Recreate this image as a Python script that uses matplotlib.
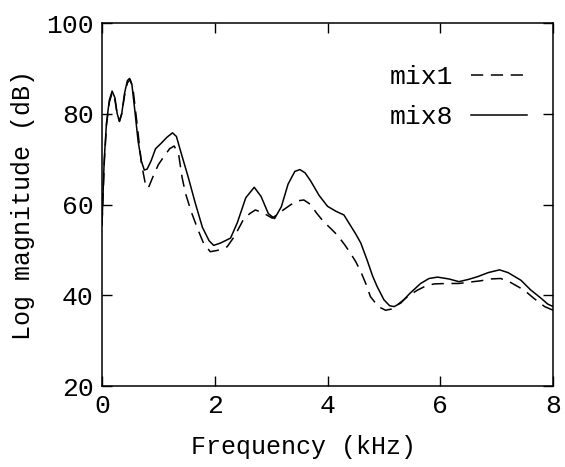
import matplotlib
matplotlib.use("Agg")
import matplotlib.pyplot as plt

# values (kHz, dB)
freq_mix8 = [0.00, 0.04, 0.08, 0.13, 0.18, 0.23, 0.27, 0.31, 0.35, 0.40, 0.45, 0.49,
             0.53, 0.58, 0.64, 0.70, 0.75, 0.80, 0.87, 0.95, 1.05, 1.15, 1.25, 1.32,
             1.40, 1.53, 1.65, 1.78, 1.90, 1.98, 2.10, 2.28, 2.40, 2.55, 2.70, 2.82,
             2.95, 3.06, 3.18, 3.30, 3.42, 3.51, 3.60, 3.70, 3.85, 4.00, 4.15, 4.29,
             4.40, 4.50, 4.59, 4.70, 4.80, 4.88, 5.00, 5.10, 5.18, 5.30, 5.45, 5.65,
             5.80, 5.95, 6.15, 6.33, 6.50, 6.66, 6.85, 7.05, 7.20, 7.43, 7.60, 7.79,
             7.90, 8.00]
mag_mix8 = [55.5, 70.0, 78.0, 83.0, 85.0, 83.5, 80.0, 78.4, 80.0, 84.5, 87.3, 87.8,
            86.5, 81.0, 74.0, 69.5, 67.6, 67.8, 69.6, 72.3, 73.5, 74.8, 75.8, 75.0,
            71.5, 66.0, 60.5, 55.0, 52.0, 51.0, 51.5, 52.6, 56.0, 61.5, 63.8, 61.8,
            58.0, 56.9, 59.5, 64.5, 67.3, 67.7, 67.0, 65.2, 62.0, 59.6, 58.5, 57.7,
            55.5, 53.5, 51.5, 47.8, 44.2, 41.9, 39.0, 37.7, 37.5, 38.3, 40.3, 42.6,
            43.7, 44.0, 43.6, 43.0, 43.5, 44.1, 45.0, 45.6, 45.0, 43.3, 41.2, 39.3,
            38.1, 37.5]

freq_mix1 = [0.00, 0.04, 0.08, 0.13, 0.18, 0.23, 0.27, 0.31, 0.35, 0.40, 0.45, 0.50,
             0.55, 0.62, 0.70, 0.77, 0.82, 0.90, 1.00, 1.10, 1.20, 1.28, 1.36, 1.42,
             1.48, 1.58, 1.70, 1.80, 1.92, 2.05, 2.22, 2.35, 2.50, 2.62, 2.72, 2.85,
             3.02, 3.18, 3.34, 3.46, 3.58, 3.70, 3.80, 3.93, 4.05, 4.17, 4.30, 4.41,
             4.50, 4.59, 4.68, 4.76, 4.90, 5.03, 5.15, 5.30, 5.45, 5.59, 5.75, 5.89,
             6.10, 6.33, 6.52, 6.72, 6.90, 7.07, 7.25, 7.49, 7.65, 7.85, 8.00]
mag_mix1 = [55.5, 69.0, 77.5, 82.5, 84.6, 83.0, 79.8, 78.3, 80.0, 84.0, 86.8, 87.5,
            85.5, 78.0, 69.0, 64.5, 63.6, 66.0, 68.8, 70.6, 72.3, 72.9, 71.0, 66.0,
            62.5, 58.5, 54.5, 51.5, 49.6, 49.9, 50.7, 53.0, 56.5, 58.0, 58.8, 58.2,
            57.0, 58.5, 59.9, 60.8, 61.0, 60.0, 58.2, 56.2, 54.8, 53.3, 51.2, 49.2,
            47.4, 45.2, 42.5, 39.7, 37.5, 36.7, 37.0, 38.5, 40.0, 41.1, 42.1, 42.5,
            42.6, 42.6, 42.9, 43.2, 43.6, 43.7, 42.8, 41.1, 39.4, 37.5, 36.7]

x_ticks = [0, 2, 4, 6, 8]
y_ticks = [20, 40, 60, 80, 100]

plt.rcParams['font.family'] = ['Liberation Mono', 'DejaVu Sans Mono']
plt.rcParams['font.size'] = 19

fig = plt.figure(figsize=(5.65, 4.67), dpi=100)
ax = fig.add_axes([0.1805, 0.1734, 0.7985, 0.7773])

ax.plot(freq_mix1, mag_mix1, color='black', lw=1.1, ls=(0, (8, 5)), label='mix1')
ax.plot(freq_mix8, mag_mix8, color='black', lw=1.1, label='mix8')

ax.set_xlim(0, 8)
ax.set_ylim(20, 100)
ax.set_xticks(x_ticks)
ax.set_yticks(y_ticks)
ax.tick_params(direction='in', length=7.5, width=1, top=True, right=True, pad=6,
               labelsize=19)
for s in ax.spines.values():
    s.set_linewidth(1.1)

ax.set_xlabel('Frequency (kHz)', fontsize=18, va='center')
ax.xaxis.set_label_coords(0.446, -0.168)
ax.set_ylabel('Log magnitude (dB)', fontsize=18, labelpad=8)

ax.legend(loc='upper right', frameon=False, markerfirst=False, handlelength=2.12,
          handletextpad=0.68, borderaxespad=0.6, labelspacing=0.6,
          bbox_to_anchor=(1.0, 0.957))

fig.savefig('out.png', dpi=100)
